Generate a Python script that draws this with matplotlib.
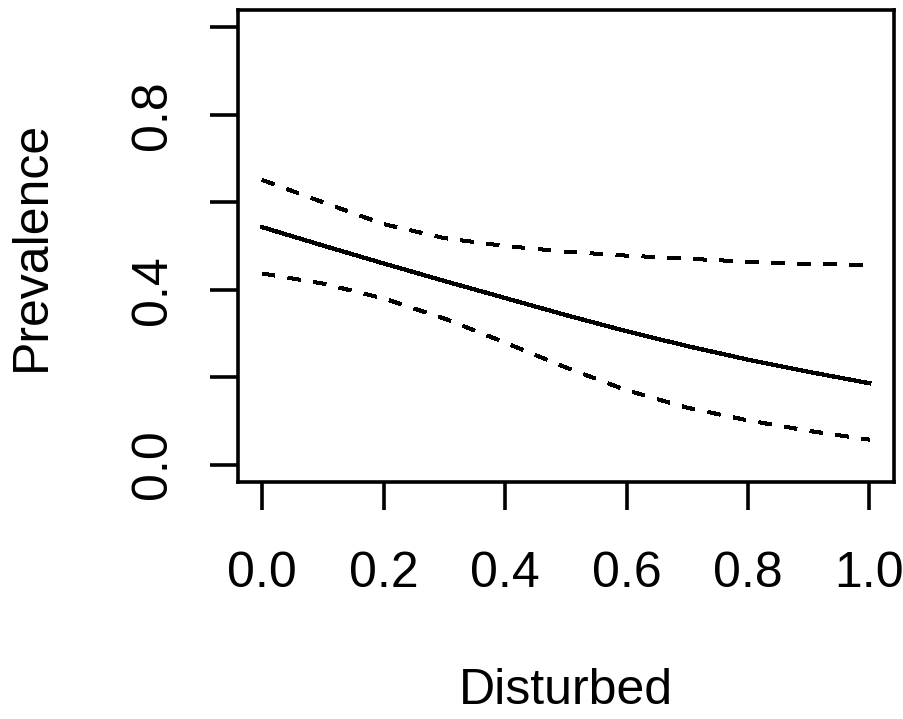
import matplotlib
matplotlib.use("Agg")
import matplotlib.pyplot as plt

# values (fitted prevalence with 95% bounds)
disturbed = [0.0, 0.1, 0.2, 0.3, 0.4, 0.5, 0.6, 0.7, 0.8, 0.9, 1.0]
fit = [0.543, 0.501, 0.460, 0.420, 0.381, 0.342, 0.305, 0.271, 0.240, 0.212, 0.186]
upper = [0.651, 0.600, 0.550, 0.518, 0.500, 0.487, 0.478, 0.471, 0.464, 0.459, 0.457]
lower = [0.437, 0.414, 0.380, 0.334, 0.279, 0.222, 0.170, 0.130, 0.101, 0.077, 0.057]

xticks = [0.0, 0.2, 0.4, 0.6, 0.8, 1.0]
yticks = [0.0, 0.2, 0.4, 0.6, 0.8, 1.0]
ytick_labels = ["0.0", "", "0.4", "", "0.8", ""]

plt.rcParams['font.family'] = ['Liberation Sans', 'DejaVu Sans']

W, H = 904, 719
fig = plt.figure(figsize=(W / 100, H / 100), dpi=100)
left, right, top, bottom = 238, 893.6, 10, 482
ax = fig.add_axes([left / W, 1 - bottom / H, (right - left) / W, (bottom - top) / H])

lw = 2.3
ax.plot(disturbed, fit, color="black", lw=lw, antialiased=False)
for band in (upper, lower):
    ax.plot(disturbed, band, color="black", lw=lw, antialiased=False,
            linestyle=(0, (3.8, 4.2)))

ax.set_xlim(-0.04, 1.04)
ax.set_ylim(-0.04, 1.04)

for s in ax.spines.values():
    s.set_linewidth(2.6)

ax.set_xticks(xticks)
ax.set_xticklabels([f"{v:.1f}" for v in xticks])
ax.set_yticks(yticks)
ax.set_yticklabels(ytick_labels)
ax.tick_params(axis="both", length=20, width=2.6, labelsize=36)
ax.tick_params(axis="x", pad=30)
ax.tick_params(axis="y", pad=25, labelrotation=90)
for t in ax.get_yticklabels():
    t.set_verticalalignment("center")

ax.set_xlabel("Disturbed", fontsize=36, va="center")
ax.xaxis.set_label_coords(0.5, (bottom - 691) / (bottom - top))
ax.set_ylabel("Prevalence", fontsize=36, va="center")
ax.yaxis.set_label_coords((32 - left) / (right - left), 0.5)

fig.savefig("out.png", dpi=100)
